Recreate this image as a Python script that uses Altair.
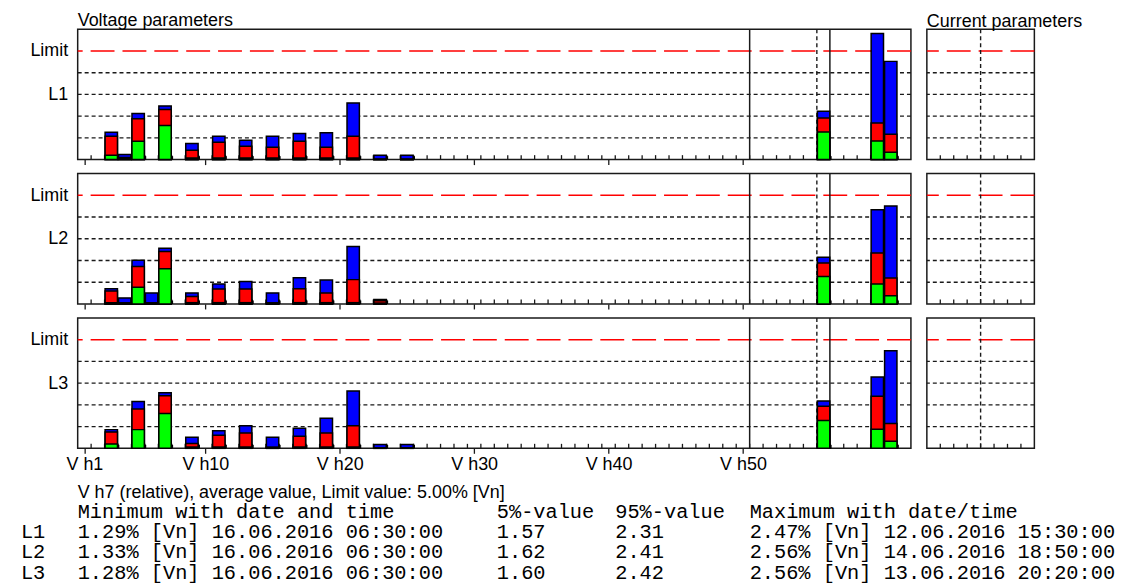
import altair as alt
import pandas as pd

# ---------------- data ----------------
harm_L1 = [3, 4, 5, 7, 9, 11, 13, 15, 17, 19, 21, 23, 25, 56, 60, 61]
max_L1 = [1.26, 0.24, 2.12, 2.47, 0.74, 1.07, 0.89, 1.07, 1.20, 1.24, 2.61, 0.20, 0.20, 2.22, 5.80, 4.52]
p95_L1 = [1.08, 0.10, 1.88, 2.31, 0.43, 0.80, 0.61, 0.57, 0.84, 0.57, 1.07, 0.02, 0.02, 1.92, 1.68, 1.17]
p5_L1 = [0.20, 0.07, 0.85, 1.57, 0.08, 0.08, 0.08, 0.07, 0.07, 0.07, 0.07, 0.02, 0.02, 1.27, 0.86, 0.34]

harm_L2 = [3, 4, 5, 6, 7, 9, 11, 13, 15, 17, 19, 21, 23, 56, 60, 61]
max_L2 = [0.70, 0.28, 2.01, 0.51, 2.56, 0.51, 0.92, 1.03, 0.51, 1.21, 1.10, 2.64, 0.20, 2.15, 4.34, 4.51]
p95_L2 = [0.60, 0.05, 1.72, 0.05, 2.41, 0.34, 0.69, 0.69, 0.05, 0.70, 0.51, 1.12, 0.15, 1.89, 2.35, 1.20]
p5_L2 = [0.06, 0.04, 0.77, 0.04, 1.62, 0.06, 0.06, 0.06, 0.04, 0.06, 0.06, 0.06, 0.04, 1.26, 0.92, 0.38]

harm_L3 = [3, 5, 7, 9, 11, 13, 15, 17, 19, 21, 23, 25, 56, 60, 61]
max_L3 = [0.86, 2.15, 2.56, 0.51, 0.81, 1.04, 0.51, 0.92, 1.38, 2.64, 0.18, 0.18, 2.18, 3.28, 4.49]
p95_L3 = [0.75, 1.81, 2.42, 0.22, 0.60, 0.71, 0.05, 0.55, 0.71, 1.04, 0.02, 0.02, 1.94, 2.40, 1.14]
p5_L3 = [0.20, 0.86, 1.60, 0.06, 0.06, 0.06, 0.04, 0.06, 0.06, 0.06, 0.02, 0.02, 1.28, 0.88, 0.32]

grid_levels = [1, 2, 3, 4]
limit_level = [5]
label_ticks = [1, 10, 20, 30, 40, 50]
minor_ticks = [n + 0.5 for n in range(1, 62)]
solid_dividers = [50.5, 56.47]
dotted_dividers = [55.5]
current_ticks = [1, 2, 3, 4, 5, 6, 7]
current_divider = [4]

info_line = "V h7 (relative), average value, Limit value: 5.00% [Vn]"
headers = ["Minimum with date and time", "5%-value", "95%-value", "Maximum with date/time"]
phases = ["L1", "L2", "L3"]
minimums = ["1.29% [Vn] 16.06.2016 06:30:00", "1.33% [Vn] 16.06.2016 06:30:00", "1.28% [Vn] 16.06.2016 06:30:00"]
p5_values = ["1.57", "1.62", "1.60"]
p95_values = ["2.31", "2.41", "2.42"]
maximums = ["2.47% [Vn] 12.06.2016 15:30:00", "2.56% [Vn] 14.06.2016 18:50:00", "2.56% [Vn] 13.06.2016 20:20:00"]

# ---------------- style ----------------
FONT = "Liberation Sans"
MONO = "Liberation Mono"
SANS_SIZE = 18
INK = "#1a1a1a"
MAIN_W, CUR_W, ROW_H = 837, 108, 131

xscale = alt.Scale(domain=[0.5, 62.5], nice=False, zero=False)
yscale = alt.Scale(domain=[0, 6], nice=False, zero=True)
cscale = alt.Scale(domain=[0, 8], nice=False, zero=False)


def yaxis(phase):
    return alt.Axis(values=[3, 5], labelExpr=f"datum.value == 5 ? 'Limit' : '{phase}'",
                    ticks=False, domain=False, grid=False, labelPadding=10, labelFont=FONT,
                    labelFontSize=SANS_SIZE, labelColor="black", title=None, minExtent=57, maxExtent=57)


def xaxis(show):
    return alt.Axis(values=label_ticks, labelExpr="'V h' + datum.value", tickSize=5, tickColor=INK,
                    tickWidth=1.3, domain=False, grid=False, labels=show, title=None, labelFont=FONT,
                    labelFontSize=SANS_SIZE, labelColor="black", labelPadding=2, labelFlush=False)


def titled(ch, title):
    return ch.properties(title=alt.Title(title, anchor="start", frame="group", fontSize=SANS_SIZE,
                                         fontWeight="normal", font=FONT, offset=-2, color="black"))


def main_panel(phase, harms, vmax, v95, v5, show_labels, title=None):
    bars = pd.DataFrame({"h": harms, "vmax": vmax, "v95": v95, "v5": v5})
    xa = xaxis(show_labels)
    ya = yaxis(phase)

    def X(f):
        return alt.X(f, type="quantitative", scale=xscale, axis=xa)

    def Y(f):
        return alt.Y(f, type="quantitative", scale=yscale, axis=ya)

    grid = alt.Chart(pd.DataFrame({"g": grid_levels})).mark_rule(
        color=INK, strokeDash=[4, 3], strokeWidth=1.4).encode(y=Y("g"))
    limit = alt.Chart(pd.DataFrame({"g": limit_level})).mark_rule(
        color="#ff0000", strokeDash=[24, 8], strokeWidth=1.5).encode(y=Y("g"))
    solid = alt.Chart(pd.DataFrame({"v": solid_dividers})).mark_rule(
        color=INK, strokeWidth=1.5).encode(x=X("v"))
    dotted = alt.Chart(pd.DataFrame({"v": dotted_dividers})).mark_rule(
        color=INK, strokeDash=[4, 3], strokeWidth=1.4).encode(x=X("v"))
    ticks = alt.Chart(pd.DataFrame({"t": minor_ticks})).mark_rule(
        color=INK, strokeWidth=1.3).encode(x=X("t"), y=alt.value(ROW_H), y2=alt.value(ROW_H - 4.5))

    base = alt.Chart(bars).transform_calculate(
        x1="datum.h - 0.46", x2="datum.h + 0.46", s1="datum.h - 0.2", s2="datum.h + 0.6")
    shadow = base.mark_rect(color="black").encode(
        x=X("s1"), x2="s2:Q", y=alt.value(ROW_H), y2=alt.value(ROW_H - 3.5))
    layers = [grid, limit, solid, dotted, ticks, shadow]
    for field, col in [("vmax", "#0000ff"), ("v95", "#ff0000"), ("v5", "#00ff00")]:
        layers.append(base.mark_rect(fill=col, stroke="black", strokeWidth=1.5).encode(
            x=X("x1"), x2="x2:Q", y=Y(field), y2=alt.datum(0)))
    ch = alt.layer(*layers)
    if title:
        ch = titled(ch, title)
    return ch.properties(width=MAIN_W, height=ROW_H)


def cur_panel(title=None):
    def X(f):
        return alt.X(f, type="quantitative", scale=cscale, axis=None)

    def Y(f):
        return alt.Y(f, type="quantitative", scale=yscale, axis=None)

    grid = alt.Chart(pd.DataFrame({"g": grid_levels})).mark_rule(
        color=INK, strokeDash=[4, 3], strokeWidth=1.4).encode(y=Y("g"))
    limit = alt.Chart(pd.DataFrame({"g": limit_level})).mark_rule(
        color="#ff0000", strokeDash=[24, 8], strokeWidth=1.5).encode(y=Y("g"))
    dotted = alt.Chart(pd.DataFrame({"v": current_divider})).mark_rule(
        color=INK, strokeDash=[4, 3], strokeWidth=1.4).encode(x=X("v"))
    ticks = alt.Chart(pd.DataFrame({"t": current_ticks})).mark_rule(
        color=INK, strokeWidth=1.3).encode(x=X("t"), y=alt.value(ROW_H), y2=alt.value(ROW_H - 4.5))
    ch = alt.layer(grid, limit, dotted, ticks)
    if title:
        ch = titled(ch, title)
    return ch.properties(width=CUR_W, height=ROW_H)


rows = []
series = [(harm_L1, max_L1, p95_L1, p5_L1), (harm_L2, max_L2, p95_L2, p5_L2), (harm_L3, max_L3, p95_L3, p5_L3)]
for i, (ph, s) in enumerate(zip(phases, series)):
    main = main_panel(ph, *s, show_labels=(i == 2), title="Voltage parameters" if i == 0 else None)
    cur = cur_panel("Current parameters" if i == 0 else None)
    rows.append(alt.hconcat(main, cur, spacing=12))


def T(s, x, y, font, size):
    return alt.Chart(pd.DataFrame({"s": [s]})).mark_text(
        align="left", baseline="middle", font=font, fontSize=size, color="black").encode(
        text="s:N", x=alt.value(x), y=alt.value(y))


COLX = [0, 421, 540, 675]
MONO_SIZE = 20.4
txt = [T(info_line, 0, 12.5, FONT, SANS_SIZE)]
for hx, h in zip(COLX, headers):
    txt.append(T(h, hx, 32, MONO, MONO_SIZE))
for r in range(3):
    yy = 52 + 20.6 * r
    txt.append(T(phases[r], -57, yy, MONO, MONO_SIZE))
    txt.append(T(minimums[r], COLX[0], yy, MONO, MONO_SIZE))
    txt.append(T(p5_values[r], COLX[1], yy, MONO, MONO_SIZE))
    txt.append(T(p95_values[r], COLX[2], yy, MONO, MONO_SIZE))
    txt.append(T(maximums[r], COLX[3], yy, MONO, MONO_SIZE))
text_chart = alt.layer(*txt).properties(width=MAIN_W, height=90,
                                        view=alt.ViewBackground(stroke="transparent"))

chart = alt.vconcat(*rows, text_chart, spacing=5).properties(
    padding={"left": 12, "top": 2, "right": 0, "bottom": 0}
).configure_view(stroke=INK, strokeWidth=1.5)

chart.save("out.html", embed_options={"renderer": "svg", "actions": False})
